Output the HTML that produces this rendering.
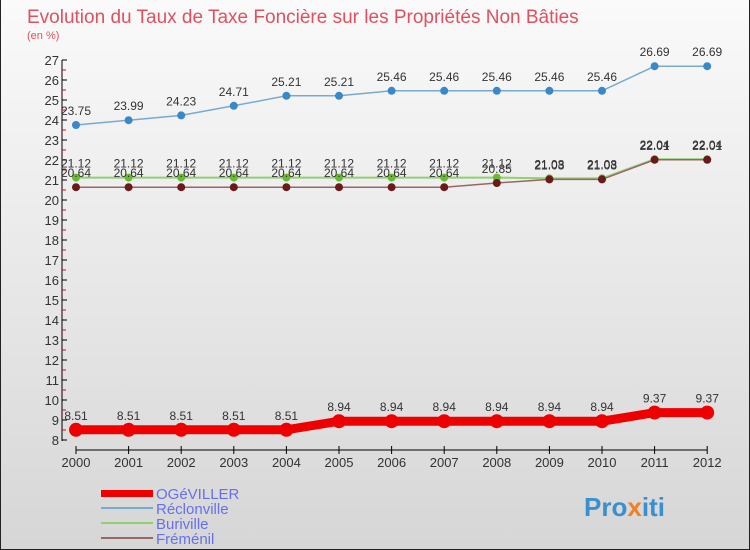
<!DOCTYPE html>
<html><head><meta charset="utf-8"><style>
body{margin:0;}
#c{width:750px;height:550px;position:relative;background:linear-gradient(#fafafa,#d6d6d6);font-family:"Liberation Sans",sans-serif;overflow:hidden;box-sizing:border-box;border:1px solid #222;border-top:none}
</style></head><body>
<div id="c">
<svg id="s" width="750" height="550" xmlns="http://www.w3.org/2000/svg">
<text x="26" y="23" font-size="19" fill="#e05060">Evolution du Taux de Taxe Foncière sur les Propriétés Non Bâties</text>
<text x="26" y="39" font-size="11" fill="#e05060">(en %)</text>
<g id="axes"></g><g id="series"></g>
<g>
<rect x="100" y="490" width="52" height="7" fill="#ee0000"/>
<text x="155" y="499" font-size="15" fill="#6670ee">OGéVILLER</text>
<rect x="100" y="507" width="52" height="2" fill="#78aad0"/>
<text x="155" y="514" font-size="15" fill="#6670ee">Réclonville</text>
<rect x="100" y="522" width="52" height="2" fill="#90d070"/>
<text x="155" y="529" font-size="15" fill="#6670ee">Buriville</text>
<rect x="100" y="537" width="52" height="2" fill="#996666"/>
<text x="155" y="544" font-size="15" fill="#6670ee">Fréménil</text>
</g>
<text x="583" y="516" font-size="26" font-weight="bold" fill="#3a8fd0">Pro<tspan fill="#f08020">x</tspan>iti</text>
</svg></div>
<script>
const years=[2000,2001,2002,2003,2004,2005,2006,2007,2008,2009,2010,2011,2012];
const ogeviller=[8.51,8.51,8.51,8.51,8.51,8.94,8.94,8.94,8.94,8.94,8.94,9.37,9.37];
const reclonville=[23.75,23.99,24.23,24.71,25.21,25.21,25.46,25.46,25.46,25.46,25.46,26.69,26.69];
const buriville=[21.12,21.12,21.12,21.12,21.12,21.12,21.12,21.12,21.12,21.08,21.08,22.04,22.04];
const fremenil=[20.64,20.64,20.64,20.64,20.64,20.64,20.64,20.64,20.85,21.03,21.03,22.01,22.01];
const yTicks=[8,9,10,11,12,13,14,15,16,17,18,19,20,21,22,23,24,25,26,27];
const NS="http://www.w3.org/2000/svg";
const xs=i=>75+i*52.6, ys=v=>60+(27-v)*20;
function mk(t,a,p){const e=document.createElementNS(NS,t);for(const k in a)e.setAttribute(k,a[k]);p.appendChild(e);return e;}
const ax=document.getElementById('axes');
let e=mk('line',{x1:61,y1:60,x2:61,y2:441,stroke:'#000'},ax);


yTicks.forEach(v=>{mk('line',{x1:61,x2:66,y1:ys(v),y2:ys(v),stroke:'#000'},ax);
if(v<27)mk('line',{x1:61,x2:65,y1:ys(v+0.5),y2:ys(v+0.5),stroke:'#e00'},ax);
const t=mk('text',{x:58,y:ys(v)+5,'text-anchor':'end','font-size':13,fill:'#333'},ax);t.textContent=v;

});
e=mk('line',{x1:75,y1:450,x2:706,y2:450,stroke:'#000'},ax);


years.forEach((y,i)=>{mk('line',{x1:xs(i),x2:xs(i),y1:446,y2:454,stroke:'#000'},ax);
const t=mk('text',{x:xs(i),y:467,'text-anchor':'middle','font-size':13,fill:'#333'},ax);t.textContent=y;

});
const sg=document.getElementById('series');
function series(name,data,col,dot,w,r){
const g=mk('g',{},sg);


const pl=mk('polyline',{points:data.map((v,i)=>xs(i)+','+ys(v)).join(' '),fill:'none',stroke:col,'stroke-width':w},g);


data.forEach((v,i)=>{const c=mk('circle',{cx:xs(i),cy:ys(v),r:r,fill:dot},g);


const t=mk('text',{x:xs(i),y:ys(v)-10,'text-anchor':'middle','font-size':12,fill:'#333'},g);t.textContent=v.toFixed(2).replace(/0$/,'').replace(/\.$/,'');
t.textContent=String(v);

});}
series('reclonville',reclonville,'#78aad0','#3a88c8',1.5,4);
series('buriville',buriville,'#90d070','#66bb33',2,4);
series('fremenil',fremenil,'#996666','#6a1a1a',1.5,4);
series('ogeviller',ogeviller,'#ee0000','#ee0000',9,7);
</script>
</body></html>
